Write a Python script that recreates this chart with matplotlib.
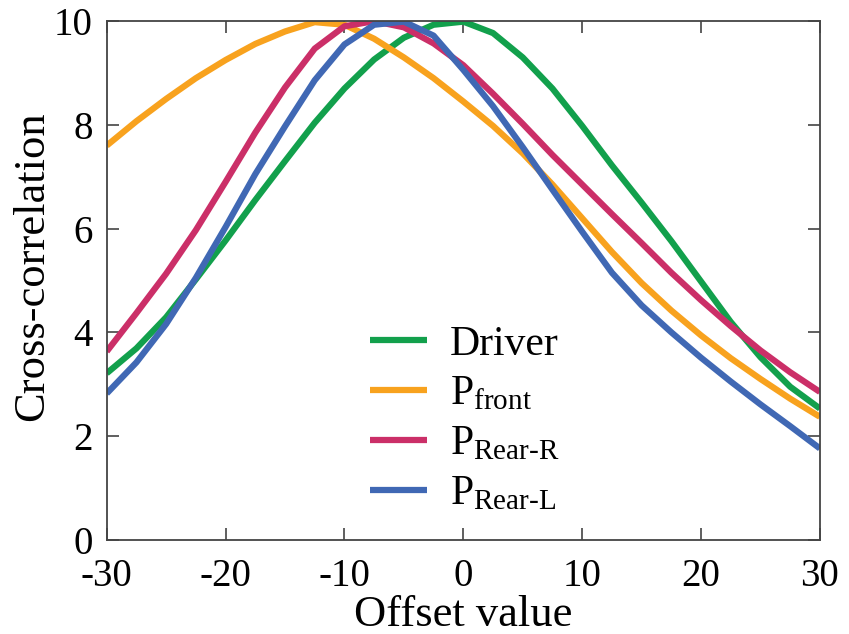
import matplotlib.pyplot as plt
import numpy as np

plt.rcParams['font.family'] = ['Liberation Serif', 'DejaVu Serif']
plt.rcParams['mathtext.fontset'] = 'custom'
plt.rcParams['mathtext.rm'] = 'Liberation Serif'
plt.rcParams['mathtext.it'] = 'Liberation Serif:italic'
plt.rcParams['axes.unicode_minus'] = False

# offset values (x) shared by all curves
offset = [-30, -27.5, -25, -22.5, -20, -17.5, -15, -12.5, -10, -7.5, -5, -2.5,
          0, 2.5, 5, 7.5, 10, 12.5, 15, 17.5, 20, 22.5, 25, 27.5, 30]

driver = [3.21, 3.69, 4.29, 5.02, 5.77, 6.55, 7.3, 8.04, 8.7, 9.26, 9.68, 9.93,
          9.99, 9.77, 9.3, 8.7, 7.98, 7.22, 6.5, 5.76, 4.98, 4.2, 3.52, 2.95, 2.53]
p_front = [7.6, 8.07, 8.5, 8.9, 9.25, 9.56, 9.8, 9.98, 9.93, 9.66, 9.3, 8.9,
           8.45, 7.98, 7.45, 6.85, 6.2, 5.55, 4.95, 4.42, 3.94, 3.5, 3.1, 2.72, 2.37]
p_rear_r = [3.63, 4.37, 5.13, 5.97, 6.9, 7.85, 8.72, 9.47, 9.9, 10.0, 9.88, 9.57,
            9.15, 8.6, 8.02, 7.42, 6.85, 6.28, 5.72, 5.15, 4.62, 4.12, 3.65, 3.23, 2.85]
p_rear_l = [2.82, 3.42, 4.16, 5.05, 6.03, 7.05, 7.97, 8.86, 9.55, 9.93, 9.99, 9.72,
            9.06, 8.36, 7.57, 6.75, 5.94, 5.15, 4.52, 4.0, 3.51, 3.05, 2.61, 2.19, 1.76]

labels = ['Driver', r'P$_{\mathrm{front}}$', r'P$_{\mathrm{Rear\text{-}R}}$', r'P$_{\mathrm{Rear\text{-}L}}$']
colors = ['#12a04c', '#f8a21e', '#cb2f68', '#4068b4']

fig = plt.figure(figsize=(8.49, 6.34), dpi=100)
ax = fig.add_axes([0.1257, 0.1487, 0.84, 0.818])

for ys, lab, c in zip([driver, p_front, p_rear_r, p_rear_l], labels, colors):
    ax.plot(offset, ys, color=c, lw=4.5, label=lab, solid_capstyle='butt',
            solid_joinstyle='round')

ax.set_xlim(-30, 30)
ax.set_ylim(0, 10)
ax.set_xticks(np.arange(-30, 31, 10))
ax.set_yticks(np.arange(0, 11, 2))
ax.tick_params(direction='in', length=8.5, width=1.2, color='#444444',
               top=True, right=True, labelsize=28, pad=10)
ax.tick_params(axis='x', pad=13)
for s in ax.spines.values():
    s.set_color('#444444')
    s.set_linewidth(1.3)

ax.set_xlabel('Offset value', fontsize=32, labelpad=0)
ax.set_ylabel('Cross-correlation', fontsize=32, labelpad=1)
ax.yaxis.label.set_y(0.528)

ax.legend(loc='center', bbox_to_anchor=(0.502, 0.232), frameon=False, fontsize=30,
          handlelength=1.37, handletextpad=0.53, labelspacing=0.27)

fig.savefig('out.png', dpi=100)
